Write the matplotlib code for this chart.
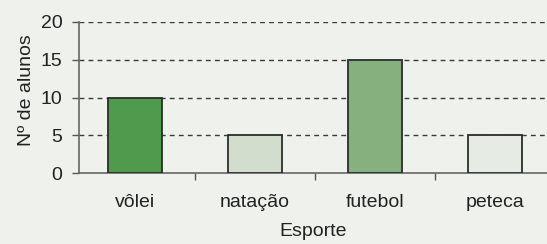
import matplotlib
matplotlib.use('Agg')
import matplotlib.pyplot as plt

plt.rcParams['font.family'] = ['Liberation Sans', 'DejaVu Sans']

esportes = ['vôlei', 'natação', 'futebol', 'peteca']
alunos = [10, 5, 15, 5]
cores = ['#4f9a4c', '#d3ddcd', '#86b07e', '#e6ece4']
yticks = [0, 5, 10, 15, 20]

bg = '#eff1ed'
txt = '#222222'
fig = plt.figure(figsize=(5.47, 2.44), dpi=100, facecolor=bg)
ax = fig.add_axes([79/547, 1 - 173/244, 468/547, 151/244], facecolor=bg)

x = list(range(len(esportes)))
ax.bar(x, alunos, width=0.45, color=cores, edgecolor='#2a2f2a', linewidth=1.3, zorder=3)

ax.set_xlim(-0.467, 3.433)
ax.set_ylim(0, 20)
ax.set_yticks(yticks)
for v in yticks[1:]:
    ax.axhline(v, color='#3a3a3a', linestyle=(0, (3.5, 3)), linewidth=1.0, zorder=1)

# ticks between categories on x axis
ax.set_xticks([i + 0.5 for i in x[:-1]])
ax.set_xticklabels([])
ax.set_xticks(x, minor=True)
ax.set_xticklabels(esportes, minor=True, fontsize=14, color=txt)
ax.tick_params(axis='x', which='minor', length=0, pad=15)
ax.tick_params(axis='x', which='major', length=5, width=1, color='#555555', direction='out')
ax.tick_params(axis='y', length=5, width=1, color='#555555', labelsize=14, pad=7,
               labelcolor=txt)

for s in ['top', 'right']:
    ax.spines[s].set_visible(False)
ax.spines['left'].set_color('#666666')
ax.spines['bottom'].set_color('#666666')
ax.spines['left'].set_linewidth(1.2)
ax.spines['bottom'].set_linewidth(1.2)

ax.set_xlabel('Esporte', fontsize=14, color=txt, labelpad=9)
ax.set_ylabel('Nº de alunos', fontsize=14, color=txt)
ax.yaxis.set_label_coords(-0.095, 0.55)

fig.savefig('out.png', dpi=100, facecolor=bg)
